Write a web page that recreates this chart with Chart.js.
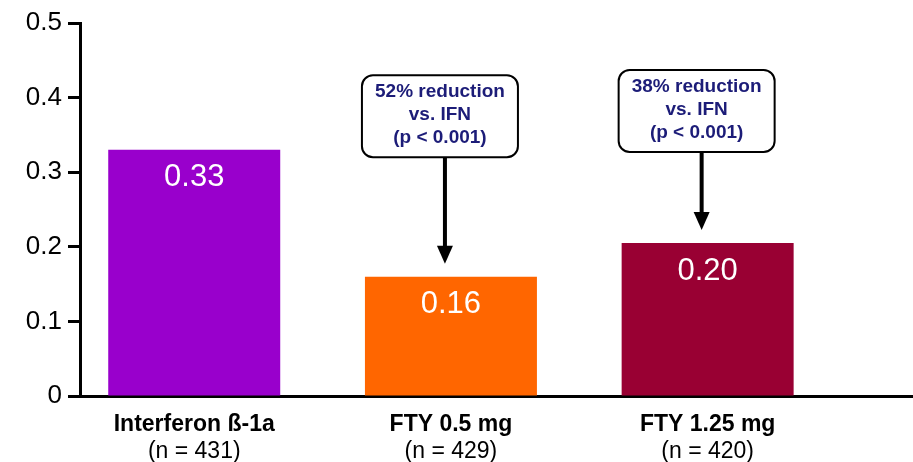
<!DOCTYPE html>
<html>
<head>
<meta charset="utf-8">
<script src="https://cdn.jsdelivr.net/npm/chart.js@4.4.0/dist/chart.umd.min.js"></script>
<style>
  html, body { margin: 0; padding: 0; background: #fff; }
  #wrap { width: 913px; height: 462px; }
</style>
</head>
<body>
<div id="wrap"><canvas id="chart"></canvas></div>
<script>
const groups = ["Interferon ß-1a", "FTY 0.5 mg", "FTY 1.25 mg"];
const groupSizes = ["(n = 431)", "(n = 429)", "(n = 420)"];
const rates = [0.33, 0.16, 0.205];
const rateLabels = ["0.33", "0.16", "0.20"];
const barColors = ["#9900cc", "#ff6600", "#990033"];
const yTicks = [0, 0.1, 0.2, 0.3, 0.4, 0.5];
const callouts = [
  { bar: 1, lines: ["52% reduction", "vs. IFN", "(p < 0.001)"] },
  { bar: 2, lines: ["38% reduction", "vs. IFN", "(p < 0.001)"] },
];

// x range chosen so the three groups sit where they do in the slide
const X_MIN = 0.555;
const X_MAX = 3.8;

const calloutPlugin = {
  id: "callouts",
  afterDatasetsDraw(chart, args, opts) {
    const ctx = chart.ctx;
    const meta = chart.getDatasetMeta(0);
    const yScale = chart.scales.y;

    // value labels inside the bars
    meta.data.forEach((bar, i) => {
      ctx.save();
      ctx.fillStyle = "#ffffff";
      ctx.font = "31px Arial, 'Liberation Sans', sans-serif";
      ctx.textAlign = "center";
      ctx.textBaseline = "middle";
      ctx.fillText(rateLabels[i], bar.x, bar.y + 28);
      ctx.restore();
    });

    callouts.forEach((c, k) => {
      const bar = meta.data[c.bar];
      const cx = bar.x - 11;
      const top = yScale.getPixelForValue(opts.boxTops[k]);
      const w = 156;
      const h = 82;
      const left = cx - w / 2;

      ctx.save();
      ctx.beginPath();
      ctx.roundRect(left, top, w, h, 11);
      ctx.fillStyle = "#ffffff";
      ctx.fill();
      ctx.lineWidth = 2;
      ctx.strokeStyle = "#000000";
      ctx.stroke();

      ctx.fillStyle = "#1c1c78";
      ctx.font = "bold 19px Arial, 'Liberation Sans', sans-serif";
      ctx.textAlign = "center";
      ctx.textBaseline = "middle";
      c.lines.forEach((line, j) => {
        ctx.fillText(line, cx, top + 17 + j * 23);
      });

      // arrow down to the bar
      const ax = bar.x - 6;
      const tip = bar.y - 13;
      ctx.beginPath();
      ctx.moveTo(ax, top + h);
      ctx.lineTo(ax, tip - 16);
      ctx.lineWidth = 4;
      ctx.strokeStyle = "#000000";
      ctx.stroke();
      ctx.beginPath();
      ctx.moveTo(ax - 8, tip - 18);
      ctx.lineTo(ax + 8, tip - 18);
      ctx.lineTo(ax, tip);
      ctx.closePath();
      ctx.fillStyle = "#000000";
      ctx.fill();
      ctx.restore();
    });
  },
};

new Chart(document.getElementById("chart").getContext("2d"), {
  type: "bar",
  data: {
    datasets: [
      {
        data: rates.map((r, i) => ({ x: i + 1, y: r })),
        backgroundColor: barColors,
        borderWidth: 0,
        categoryPercentage: 1,
        barPercentage: 0.67,
        xAxisID: "x",
      },
    ],
  },
  options: {
    responsive: true,
    maintainAspectRatio: false,
    animation: false,
    layout: {
      padding: { top: 23, right: 0, bottom: 0, left: 0 },
    },
    plugins: {
      legend: { display: false },
      tooltip: { enabled: false },
      callouts: { boxTops: [0.43, 0.437] },
    },
    scales: {
      y: {
        min: 0,
        max: 0.5,
        afterFit: (scale) => {
          scale.width = 80;
        },
        afterBuildTicks: (scale) => {
          scale.ticks = yTicks.map((v) => ({ value: v }));
        },
        border: { display: true, color: "#000000", width: 3 },
        grid: {
          drawOnChartArea: false,
          drawTicks: true,
          tickLength: 12,
          tickWidth: 3,
          tickColor: "#000000",
        },
        ticks: {
          color: "#000000",
          padding: 6,
          font: { size: 26, family: "Arial, 'Liberation Sans', sans-serif" },
          callback: function (value) {
            return value === 0 ? "0" : value.toFixed(1);
          },
        },
      },
      x: {
        type: "linear",
        position: "bottom",
        offset: false,
        clip: false,
        weight: 1,
        min: X_MIN,
        max: X_MAX,
        afterFit: (scale) => {
          scale.height = 40;
        },
        afterBuildTicks: (scale) => {
          scale.ticks = groups.map((g, i) => ({ value: i + 1 }));
        },
        border: { display: true, color: "#000000", width: 3 },
        grid: { display: false },
        ticks: {
          autoSkip: false,
          maxRotation: 0,
          color: "#000000",
          padding: 7,
          font: { size: 23, weight: "bold", family: "Arial, 'Liberation Sans', sans-serif" },
          callback: function (value) {
            return groups[value - 1];
          },
        },
      },
      x2: {
        type: "linear",
        position: "bottom",
        offset: false,
        clip: false,
        weight: 2,
        min: X_MIN,
        max: X_MAX,
        afterFit: (scale) => {
          scale.height = 26;
        },
        afterBuildTicks: (scale) => {
          scale.ticks = groupSizes.map((g, i) => ({ value: i + 1 }));
        },
        border: { display: false },
        grid: { display: false },
        ticks: {
          autoSkip: false,
          maxRotation: 0,
          color: "#000000",
          padding: -6,
          font: { size: 23, family: "Arial, 'Liberation Sans', sans-serif" },
          callback: function (value) {
            return groupSizes[value - 1];
          },
        },
      },
    },
  },
  plugins: [calloutPlugin],
});
</script>
</body>
</html>
